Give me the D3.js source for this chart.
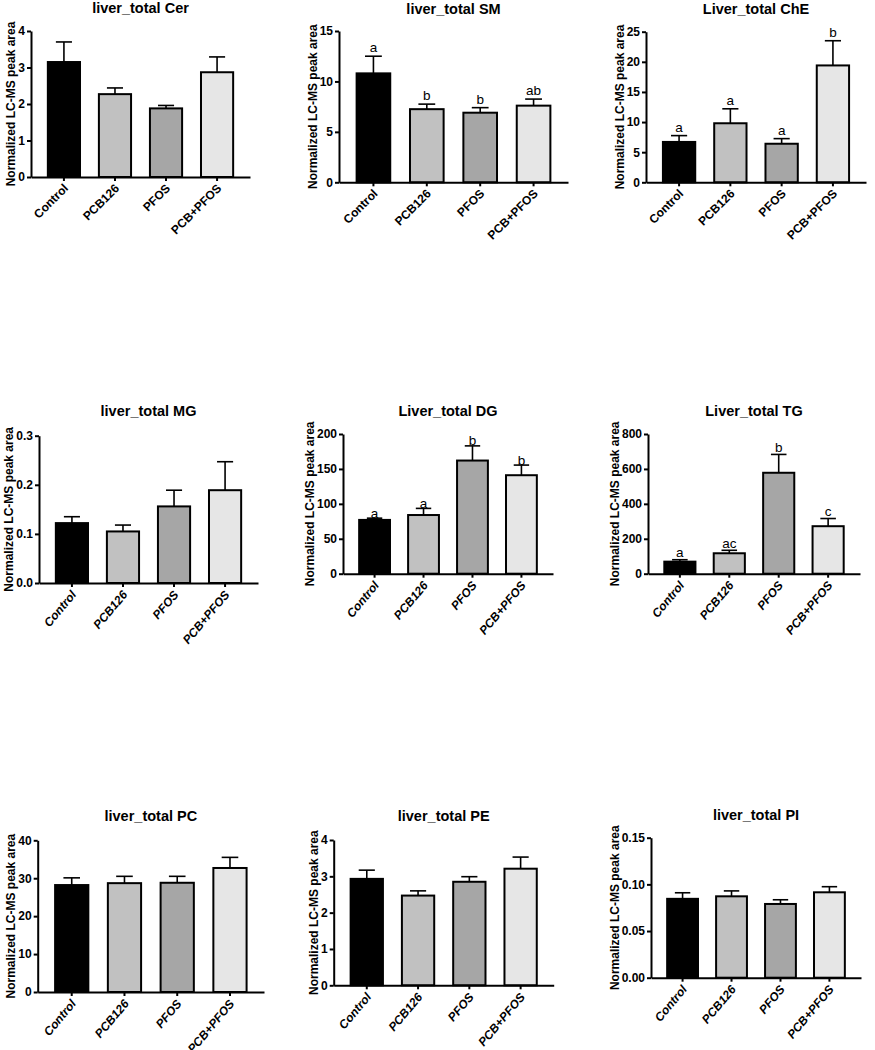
<!DOCTYPE html>
<html><head><meta charset="utf-8">
<script src="https://cdn.jsdelivr.net/npm/d3@7"></script>
<style>body{margin:0;background:#fff} svg{display:block}</style>
</head><body>
<svg id="c" width="875" height="1050"></svg>
<script>
// ---------- DATA ----------
const categories = ["Control", "PCB126", "PFOS", "PCB+PFOS"];
const barColors = ["#000000", "#c1c1c1", "#a6a6a6", "#e6e6e6"];

const titles = ["liver_total Cer", "liver_total SM", "Liver_total ChE",
                "liver_total MG", "Liver_total DG", "Liver_total TG",
                "liver_total PC", "liver_total PE", "liver_total PI"];
const yLabel = "Normalized LC-MS peak area";

const cerMean = [3.15, 2.27, 1.88, 2.87];
const cerErr  = [0.55, 0.17, 0.08, 0.42];
const cerTicks = [0, 1, 2, 3, 4];

const smMean = [10.8, 7.25, 6.9, 7.6];
const smErr  = [1.7, 0.5, 0.5, 0.65];
const smTicks = [0, 5, 10, 15];
const smLetters = ["a", "b", "b", "ab"];

const cheMean = [6.7, 9.8, 6.4, 19.4];
const cheErr  = [1.05, 2.4, 0.85, 4.1];
const cheTicks = [0, 5, 10, 15, 20, 25];
const cheLetters = ["a", "a", "a", "b"];

const mgMean = [0.122, 0.105, 0.156, 0.189];
const mgErr  = [0.013, 0.013, 0.033, 0.058];
const mgTicks = [0, 0.1, 0.2, 0.3];

const dgMean = [77, 84, 162, 141];
const dgErr  = [2.5, 9.5, 21, 14.5];
const dgTicks = [0, 50, 100, 150, 200];
const dgLetters = ["a", "a", "b", "b"];

const tgMean = [69, 117, 578, 272];
const tgErr  = [11, 17, 105, 44];
const tgTicks = [0, 200, 400, 600, 800];
const tgLetters = ["a", "ac", "b", "c"];

const pcMean = [28.2, 28.7, 28.8, 32.7];
const pcErr  = [1.9, 1.8, 1.7, 2.8];
const pcTicks = [0, 10, 20, 30, 40];

const peMean = [2.93, 2.47, 2.85, 3.21];
const peErr  = [0.24, 0.13, 0.14, 0.32];
const peTicks = [0, 1, 2, 3, 4];

const piMean = [0.0845, 0.0872, 0.079, 0.0915];
const piErr  = [0.0065, 0.0058, 0.0045, 0.006];
const piTicks = [0, 0.05, 0.10, 0.15];

// ---------- PANELS ----------
const panels = [
  {mean: cerMean, err: cerErr, ticks: cerTicks, fmt: d3.format("d"),   letters: null},
  {mean: smMean,  err: smErr,  ticks: smTicks,  fmt: d3.format("d"),   letters: smLetters},
  {mean: cheMean, err: cheErr, ticks: cheTicks, fmt: d3.format("d"),   letters: cheLetters},
  {mean: mgMean,  err: mgErr,  ticks: mgTicks,  fmt: d3.format(".1f"), letters: null},
  {mean: dgMean,  err: dgErr,  ticks: dgTicks,  fmt: d3.format("d"),   letters: dgLetters},
  {mean: tgMean,  err: tgErr,  ticks: tgTicks,  fmt: d3.format("d"),   letters: tgLetters},
  {mean: pcMean,  err: pcErr,  ticks: pcTicks,  fmt: d3.format("d"),   letters: null},
  {mean: peMean,  err: peErr,  ticks: peTicks,  fmt: d3.format("d"),   letters: null},
  {mean: piMean,  err: piErr,  ticks: piTicks,  fmt: d3.format(".2f"), letters: null}
];

// layout (pixel geometry)
const layout = [
  {left: 31,    right: 250,   top: 31,    bottom: 177,   titleY: 13,  row: 1, letterGap: 4},
  {left: 339,   right: 568,   top: 31,    bottom: 182.3, titleY: 14,  row: 1, letterGap: 4},
  {left: 646,   right: 866,   top: 31.7,  bottom: 182.3, titleY: 14,  row: 1, letterGap: 4},
  {left: 39,    right: 258,   top: 435.7, bottom: 583,   titleY: 416, row: 2, letterGap: 1},
  {left: 343,   right: 553,   top: 434,   bottom: 573.7, titleY: 416, row: 2, letterGap: 0.5},
  {left: 648,   right: 860,   top: 434,   bottom: 573.7, titleY: 416, row: 2, letterGap: 2.5},
  {left: 37.7,  right: 264,   top: 840.3, bottom: 992,   titleY: 821, row: 3, letterGap: 2},
  {left: 333.7, right: 553.7, top: 840,   bottom: 985.3, titleY: 821, row: 3, letterGap: 2},
  {left: 651,   right: 861,   top: 837.7, bottom: 977.7, titleY: 820, row: 3, letterGap: 2}
];

const svg = d3.select("#c");
const FONT = "'Liberation Sans', Arial, sans-serif";

panels.forEach((p, i) => {
  const L = layout[i];
  const g = svg.append("g");
  const ymax = p.ticks[p.ticks.length - 1];
  const x = d3.scaleBand().domain(categories).range([L.left, L.right])
    .paddingInner(0.37).paddingOuter(0.33);
  const y = d3.scaleLinear().domain([0, ymax]).range([L.bottom, L.top]);
  const bw = x.bandwidth();
  const data = categories.map((c, k) => ({c, k, m: p.mean[k], e: p.err[k]}));

  // error bars (upper only)
  const eb = g.append("g").attr("stroke", "#000").attr("stroke-width", 1.6).attr("fill", "none");
  eb.selectAll("line.v").data(data).join("line").attr("class", "v")
    .attr("x1", d => x(d.c) + bw / 2).attr("x2", d => x(d.c) + bw / 2)
    .attr("y1", d => y(d.m)).attr("y2", d => y(d.m + d.e));
  eb.selectAll("line.h").data(data).join("line").attr("class", "h")
    .attr("x1", d => x(d.c) + bw * 0.25).attr("x2", d => x(d.c) + bw * 0.75)
    .attr("y1", d => y(d.m + d.e)).attr("y2", d => y(d.m + d.e));

  // bars
  g.append("g").selectAll("rect").data(data).join("rect")
    .attr("x", d => x(d.c)).attr("width", bw)
    .attr("y", d => y(d.m)).attr("height", d => y(0) - y(d.m))
    .attr("fill", d => barColors[d.k]).attr("stroke", "#000").attr("stroke-width", 2);

  // letters
  if (p.letters) {
    g.append("g").selectAll("text").data(data).join("text")
      .attr("x", d => x(d.c) + bw / 2)
      .attr("y", d => y(d.m + d.e) - L.letterGap)
      .attr("text-anchor", "middle")
      .attr("font-family", FONT).attr("font-size", 13.5).attr("fill", "#000")
      .text(d => p.letters[d.k]);
  }

  // y axis
  const ya = g.append("g").attr("transform", `translate(${L.left},0)`)
    .call(d3.axisLeft(y).tickValues(p.ticks).tickFormat(p.fmt).tickSize(4).tickSizeOuter(0).tickPadding(2));
  ya.select(".domain").attr("stroke-width", 2);
  ya.selectAll(".tick line").attr("stroke-width", 2);
  ya.selectAll(".tick text").attr("font-family", FONT).attr("font-size", 12)
    .attr("font-weight", "bold").attr("fill", "#000");

  // x axis
  const xa = g.append("g").attr("transform", `translate(0,${L.bottom})`)
    .call(d3.axisBottom(x).tickSize(4).tickSizeOuter(0));
  xa.select(".domain").attr("stroke-width", 2);
  xa.selectAll(".tick line").attr("stroke-width", 2);
  const rot = L.row === 1 ? -45 : -50;
  xa.selectAll(".tick text")
    .attr("font-family", FONT).attr("font-size", 12).attr("font-weight", "bold")
    .attr("font-style", L.row === 1 ? "normal" : "italic").attr("fill", "#000")
    .attr("text-anchor", "end").attr("dy", null).attr("y", 0).attr("x", 0)
    .attr("transform", `translate(5,12) rotate(${rot})`);

  // y label (baseline just left of the tick labels)
  const bb = ya.node().getBBox();
  const lx = L.left + bb.x - 3;
  const ly = (L.top + L.bottom) / 2;
  g.append("text")
    .attr("transform", `translate(${lx},${ly}) rotate(-90)`)
    .attr("text-anchor", "middle")
    .attr("font-family", FONT).attr("font-size", 12).attr("font-weight", "bold")
    .text(yLabel);

  // title
  g.append("text")
    .attr("x", (L.left + L.right) / 2).attr("y", L.titleY)
    .attr("text-anchor", "middle")
    .attr("font-family", FONT).attr("font-size", 14.5).attr("font-weight", "bold")
    .text(titles[i]);
});
</script>
</body></html>
